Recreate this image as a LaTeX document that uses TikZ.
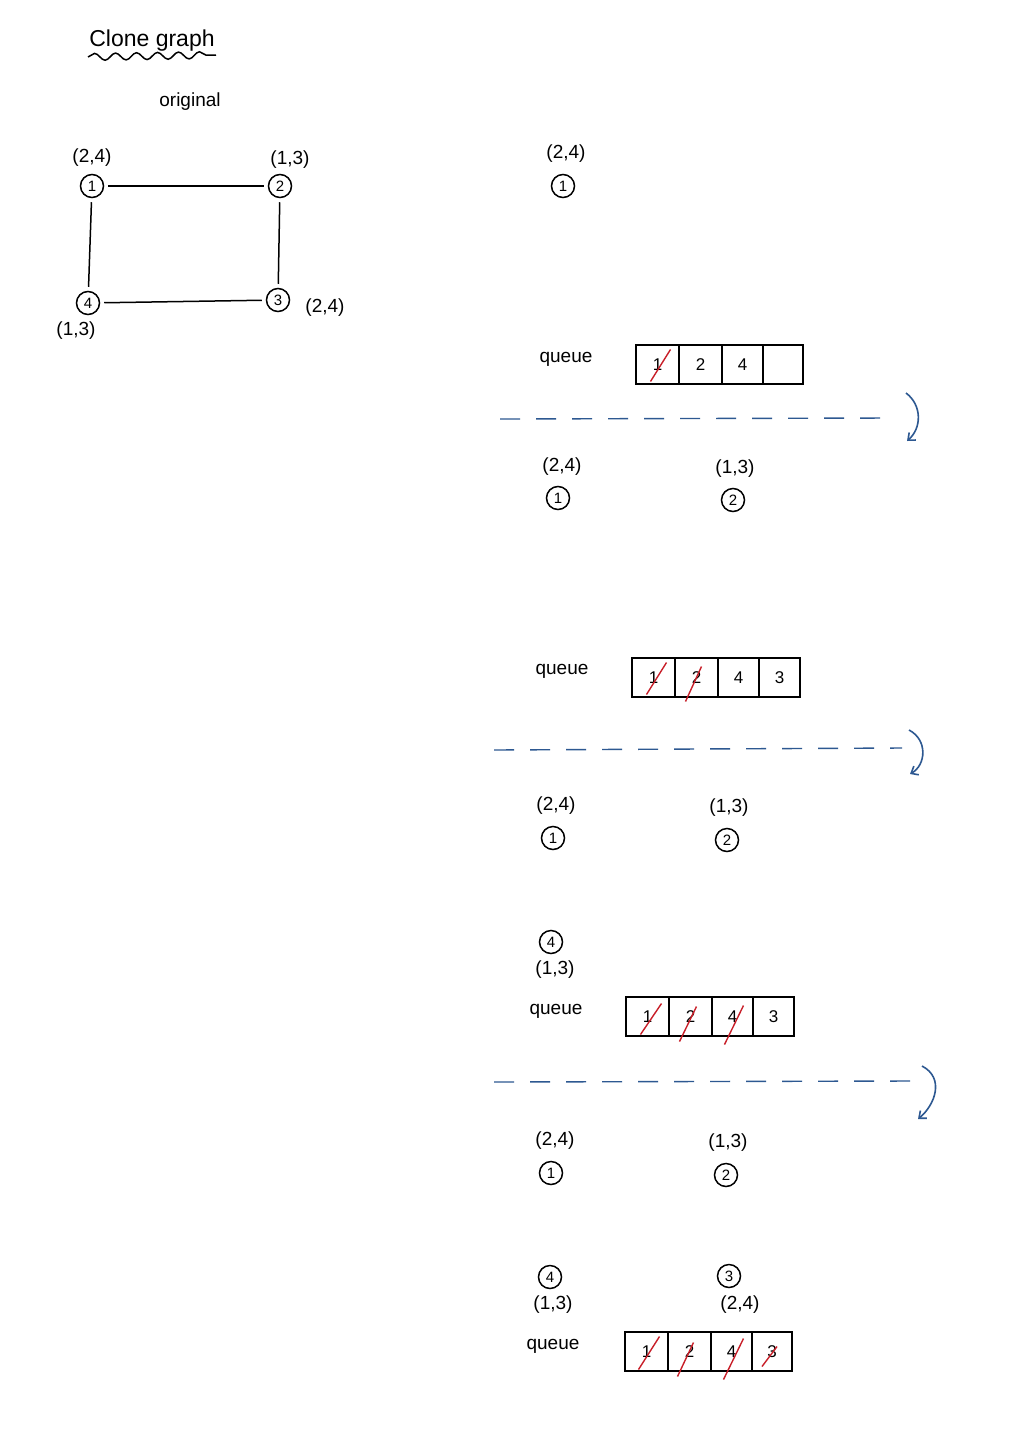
\documentclass[tikz,border=0pt]{standalone}
\usepackage{fontspec}
\setmainfont{Liberation Sans}
\usetikzlibrary{arrows.meta,decorations.pathmorphing,calc}
\definecolor{penblue}{RGB}{45,88,145}
\definecolor{penred}{RGB}{200,30,40}
\begin{document}
\begin{tikzpicture}[x=1pt,y=-1pt,
  txt/.style={font=\fontsize{19}{21}\selectfont, inner sep=0pt},
  vert/.style={draw, circle, line width=1.5pt, minimum size=23pt, inner sep=0pt, font=\fontsize{15}{16}\selectfont},
  edge/.style={line width=1.5pt, shorten <=4pt, shorten >=4pt},
  cell/.style={draw, line width=1.5pt, minimum height=39pt, inner sep=0pt, font=\fontsize{17}{19}\selectfont, outer sep=0pt},
  cross/.style={penred, line width=1.4pt},
  sep/.style={penblue, line width=1.4pt, dash pattern=on 20pt off 16pt},
  turn/.style={penblue, line width=1.6pt, -{Straight Barb[length=6pt,width=10pt]}}
]
\useasboundingbox (0,0) rectangle (1018,1440);
\fill[white] (0,0) rectangle (1018,1440);

% title
\node[txt, font=\fontsize{23}{25}\selectfont] (title) at (152,41) {Clone graph};
\coordinate (ul1) at (88,57);
\coordinate (ul2) at (216,55);
\draw[line width=1.5pt, decorate, decoration={snake, segment length=21pt, amplitude=3.5pt}] (ul1) -- (ul2);
\node[txt] (orig) at (190,102) {original};

% original graph
\node[vert] (g1) at (92,186) {1};
\node[vert] (g2) at (280,186) {2};
\node[vert] (g3) at (278,300) {3};
\node[vert] (g4) at (88,303) {4};
\draw[edge] (g1) -- (g2);
\draw[edge] (g2) -- (g3);
\draw[edge] (g3) -- (g4);
\draw[edge] (g4) -- (g1);
\node[txt] (l1) at (92,158) {(2,4)};
\node[txt] (l2) at (290,160) {(1,3)};
\node[txt] (l3) at (325,308) {(2,4)};
\node[txt] (l4) at (76,331) {(1,3)};

% ---- step 1
\node[txt] (a1l) at (566,154) {(2,4)};
\node[vert] (a1) at (563,186) {1};
\node[txt] (q1l) at (566,359) {queue};
\node[cell, minimum width=43pt] (q1a) at (657.5,364.5) {1};
\node[cell, minimum width=43pt] (q1b) at (700.5,364.5) {2};
\node[cell, minimum width=41pt] (q1c) at (742.5,364.5) {4};
\node[cell, minimum width=40pt] (q1d) at (783,364.5) {};
\draw[cross] ($(q1a.center)+(-7,17)$) -- ($(q1a.center)+(13,-15)$);
\coordinate (d1s) at (500,419);
\coordinate (d1e) at (892,418);
\draw[sep] (d1s) -- (d1e);
\coordinate (t1s) at (906,393);
\coordinate (t1e) at (907,441);
\draw[turn] (t1s) .. controls (922,405) and (922,428) .. (t1e);

% ---- step 2
\node[txt] (b1l) at (562,467) {(2,4)};
\node[vert] (b1) at (558,498) {1};
\node[txt] (b2l) at (735,469) {(1,3)};
\node[vert] (b2) at (733,500) {2};
\node[txt] (q2l) at (562,671) {queue};
\node[cell, minimum width=43pt] (q2a) at (653.5,677.5) {1};
\node[cell, minimum width=43pt] (q2b) at (696.5,677.5) {2};
\node[cell, minimum width=41pt] (q2c) at (738.5,677.5) {4};
\node[cell, minimum width=41pt] (q2d) at (779.5,677.5) {3};
\draw[cross] ($(q2a.center)+(-7,17)$) -- ($(q2a.center)+(13,-15)$);
\draw[cross] ($(q2b.center)+(-11,24)$) -- ($(q2b.center)+(5,-11)$);
\coordinate (d2s) at (494,750);
\coordinate (d2e) at (902,748);
\draw[sep] (d2s) -- (d2e);
\coordinate (t2s) at (909,730);
\coordinate (t2e) at (910,774);
\draw[turn] (t2s) .. controls (928,740) and (926,765) .. (t2e);

% ---- step 3
\node[txt] (c1l) at (556,806) {(2,4)};
\node[vert] (c1) at (553,838) {1};
\node[txt] (c2l) at (729,808) {(1,3)};
\node[vert] (c2) at (727,840) {2};
\node[vert] (c4) at (551,942) {4};
\node[txt] (c4l) at (555,970) {(1,3)};
\node[txt] (q3l) at (556,1011) {queue};
\node[cell, minimum width=43pt] (q3a) at (647.5,1016.5) {1};
\node[cell, minimum width=43pt] (q3b) at (690.5,1016.5) {2};
\node[cell, minimum width=41pt] (q3c) at (732.5,1016.5) {4};
\node[cell, minimum width=41pt] (q3d) at (773.5,1016.5) {3};
\draw[cross] ($(q3a.center)+(-7,18)$) -- ($(q3a.center)+(14,-13)$);
\draw[cross] ($(q3b.center)+(-11,25)$) -- ($(q3b.center)+(6,-10)$);
\draw[cross] ($(q3c.center)+(-8,28)$) -- ($(q3c.center)+(11,-11)$);
\coordinate (d3s) at (494,1082);
\coordinate (d3e) at (912,1081);
\draw[sep] (d3s) -- (d3e);
\coordinate (t3s) at (922,1066);
\coordinate (t3e) at (918,1119);
\draw[turn] (t3s) .. controls (945,1078) and (935,1105) .. (t3e);

% ---- step 4
\node[txt] (e1l) at (555,1141) {(2,4)};
\node[vert] (e1) at (551,1173) {1};
\node[txt] (e2l) at (728,1143) {(1,3)};
\node[vert] (e2) at (726,1175) {2};
\node[vert] (e4) at (550,1277) {4};
\node[txt] (e4l) at (553,1305) {(1,3)};
\node[vert] (e3) at (729,1276) {3};
\node[txt] (e3l) at (740,1305) {(2,4)};
\node[txt] (q4l) at (553,1346) {queue};
\node[cell, minimum width=43pt] (q4a) at (646.5,1351.5) {1};
\node[cell, minimum width=43pt] (q4b) at (689.5,1351.5) {2};
\node[cell, minimum width=41pt] (q4c) at (731.5,1351.5) {4};
\node[cell, minimum width=40pt] (q4d) at (772,1351.5) {3};
\draw[cross] ($(q4a.center)+(-8,18)$) -- ($(q4a.center)+(13,-15)$);
\draw[cross] ($(q4b.center)+(-12,25)$) -- ($(q4b.center)+(4,-9)$);
\draw[cross] ($(q4c.center)+(-8,28)$) -- ($(q4c.center)+(12,-13)$);
\draw[cross] ($(q4d.center)+(-10,15)$) -- ($(q4d.center)+(5,-5)$);
\end{tikzpicture}
\end{document}
